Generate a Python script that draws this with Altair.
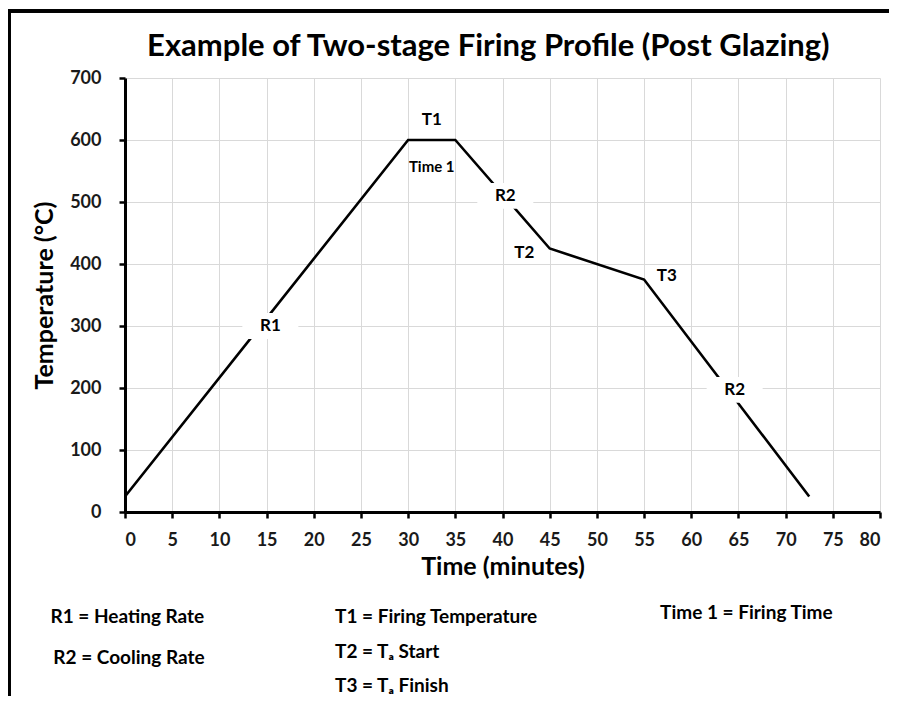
import altair as alt
import pandas as pd

# Firing profile (time in minutes, temperature in °C)
time_min = [0, 30, 35, 45, 55, 72.5]
temp_c = [25, 600, 600, 425, 375, 25]

# In-plot annotations
label_text = ["T1", "Time 1", "R2", "T2", "T3", "R1", "R2"]
label_x = [32.5, 32.5, 40.3, 42.3, 57.4, 15.4, 64.6]
label_y = [632, 556, 510, 418, 381, 300, 197]
label_fs = [17, 15, 17, 17, 17, 17, 17]
label_boxed = [False, False, True, False, False, True, True]

# Key below the chart (positions in data units)
key_text = ["R1 = Heating Rate", "R2 = Cooling Rate", "T1 = Firing Temperature",
            "T2 = T\u2090 Start", "T3 = T\u2090 Finish", "Time 1 = Firing Time"]
key_x = [-7.9, -7.6, 22.25, 22.25, 22.25, 56.7]
key_y = [-170, -236, -170, -226, -280, -163]

# Chart title (position in data units)
title_text = ["Example of Two-stage Firing Profile (Post Glazing)"]
title_x = [38.5]
title_y = [735]

x_ticks = list(range(0, 81, 5))
y_ticks = list(range(0, 701, 100))

FONT = "Lato"

profile = pd.DataFrame({"t": time_min, "temp": temp_c})
labels = pd.DataFrame({"t": label_x, "temp": label_y, "txt": label_text,
                       "fs": label_fs, "boxed": label_boxed})
boxes = labels[labels["boxed"]]
keys = pd.DataFrame({"t": key_x, "temp": key_y, "txt": key_text})
titles = pd.DataFrame({"t": title_x, "temp": title_y, "txt": title_text})

xscale = alt.Scale(domain=[0, 80], nice=False)
yscale = alt.Scale(domain=[0, 700], nice=False)

x_enc = alt.X("t:Q", scale=xscale,
              axis=alt.Axis(values=x_ticks, title="Time (minutes)"))
y_enc = alt.Y("temp:Q", scale=yscale,
              axis=alt.Axis(values=y_ticks, title="Temperature (°C)"))

line = alt.Chart(profile).mark_line(color="black", strokeWidth=2.6).encode(
    x=x_enc, y=y_enc)

box_shape = "M-1,-0.46L1,-0.46L1,0.46L-1,0.46Z"
bg = alt.Chart(boxes).mark_point(shape=box_shape, filled=True, fill="white",
                                 opacity=1, strokeWidth=0, size=3136).encode(
    x=alt.X("t:Q", scale=xscale), y=alt.Y("temp:Q", scale=yscale))

txt = alt.Chart(labels).mark_text(font=FONT, fontWeight="bold", color="black",
                                  align="center", baseline="middle").encode(
    x=alt.X("t:Q", scale=xscale), y=alt.Y("temp:Q", scale=yscale),
    text="txt:N", size=alt.Size("fs:Q", scale=None))

key = alt.Chart(keys).mark_text(font=FONT, fontWeight="bold", color="black",
                                align="left", baseline="middle", fontSize=19,
                                clip=False).encode(
    x=alt.X("t:Q", scale=xscale), y=alt.Y("temp:Q", scale=yscale),
    text="txt:N")

ttl = alt.Chart(titles).mark_text(font=FONT, fontWeight="bold", color="black",
                                  align="center", baseline="alphabetic",
                                  fontSize=31).encode(
    x=alt.X("t:Q", scale=xscale), y=alt.Y("temp:Q", scale=yscale),
    text="txt:N")

border = alt.Chart(profile).mark_rect(filled=False, stroke="black",
                                      strokeWidth=3, fill=None).encode(
    x=alt.value(-116), x2=alt.value(2000), y=alt.value(-67), y2=alt.value(2000))

chart = alt.layer(border, line, bg, txt, key, ttl).properties(
    width=755, height=434,
    background="white",
    autosize=alt.AutoSizeParams(type="none"),
    padding={"left": 117, "top": 70, "right": 9, "bottom": 184},
).configure_view(stroke=None).configure_axis(
    domainColor="black", domainWidth=3, tickColor="black", tickWidth=2.5,
    tickSize=6, labelFont=FONT, labelFontWeight="bold", labelFontSize=18,
    labelColor="#1a1a1a", gridColor="#d9d9d9", gridWidth=1,
    titleFont=FONT, titleFontWeight="bold", titleFontSize=25, titleColor="black",
).configure_axisX(labelPadding=13, titlePadding=5).configure_axisY(
    labelPadding=18, titlePadding=12)

chart.save("out.html", embed_options={"renderer": "svg", "actions": False})
